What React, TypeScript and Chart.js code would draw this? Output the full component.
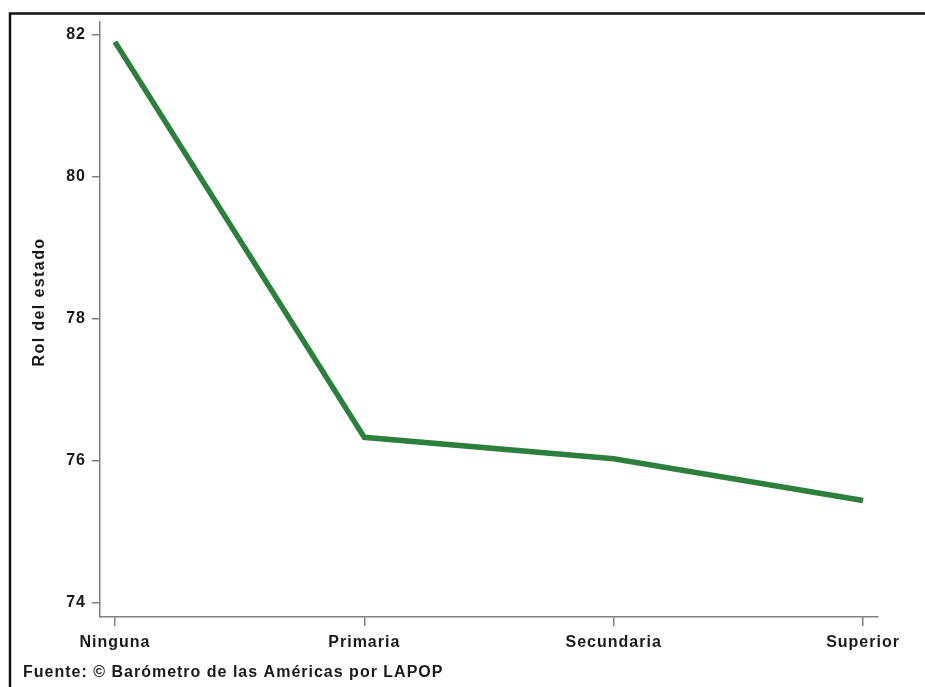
import React, { useEffect, useRef } from "react";
import { Chart, registerables } from "chart.js";

Chart.register(...registerables);

const categories = ["Ninguna", "Primaria", "Secundaria", "Superior"];
const rolDelEstado = [81.9, 76.33, 76.03, 75.44];
const yTicks = [74, 76, 78, 80, 82];
const yTitle = "Rol del estado";
const sourceNote = "Fuente: © Barómetro de las Américas por LAPOP";

const FONT = "'Liberation Sans', Arial, Helvetica, sans-serif";
const TEXT = "#1a1a1a";
const AXIS = "#808080";
const SPACING = "1px";

const spacingPlugin = {
  id: "spacing",
  beforeLayout(chart: any) {
    (chart.ctx as any).letterSpacing = SPACING;
  },
  beforeDraw(chart: any) {
    const ctx = chart.ctx;
    (ctx as any).letterSpacing = SPACING;
    ctx.save();
    ctx.fillStyle = "#ffffff";
    ctx.fillRect(0, 0, chart.width, chart.height);
    ctx.restore();
  },
  afterDraw(chart: any) {
    const ctx = chart.ctx;
    ctx.save();
    // frame
    ctx.strokeStyle = "#111111";
    ctx.lineWidth = 2.5;
    ctx.beginPath();
    ctx.moveTo(10, chart.height + 5);
    ctx.lineTo(10, 13.5);
    ctx.lineTo(chart.width + 5, 13.5);
    ctx.stroke();
    // y title
    (ctx as any).letterSpacing = "1.4px";
    ctx.fillStyle = TEXT;
    ctx.font = `bold 16px ${FONT}`;
    ctx.textAlign = "center";
    ctx.textBaseline = "middle";
    ctx.translate(40, 302);
    ctx.rotate(-Math.PI / 2);
    ctx.fillText(yTitle, 0, 0);
    ctx.restore();
    // source note
    ctx.save();
    (ctx as any).letterSpacing = SPACING;
    ctx.fillStyle = TEXT;
    ctx.font = `bold 16px ${FONT}`;
    ctx.textAlign = "left";
    ctx.textBaseline = "alphabetic";
    ctx.fillText(sourceNote, 23, 677);
    ctx.restore();
  },
};

export default function App() {
  const ref = useRef<HTMLCanvasElement | null>(null);

  useEffect(() => {
    if (!ref.current) return;
    const chart = new Chart(ref.current, {
      type: "line",
      data: {
        datasets: [
          {
            label: yTitle,
            data: rolDelEstado.map((v, i) => ({ x: i, y: v })),
            borderColor: "#2c7f3d",
            backgroundColor: "#2c7f3d",
            borderWidth: 5.5,
            pointRadius: 0,
            tension: 0,
            fill: false,
          },
        ],
      },
      options: {
        responsive: false,
        animation: false,
        layout: { padding: { left: 20, top: 22, right: 47, bottom: 0 } },
        plugins: {
          legend: { display: false },
          tooltip: { enabled: false },
          title: { display: false },
        },
        scales: {
          x: {
            type: "linear",
            min: -0.06,
            max: 3.06,
            afterBuildTicks: (s: any) => {
              s.ticks = categories.map((_, i) => ({ value: i }));
            },
            afterFit: (s: any) => {
              s.height = 70;
            },
            border: { display: true, color: AXIS, width: 1.5 },
            grid: {
              display: true,
              drawOnChartArea: false,
              drawTicks: true,
              tickLength: 9,
              color: AXIS,
              lineWidth: 1.5,
            },
            ticks: {
              autoSkip: false,
              maxRotation: 0,
              padding: 7,
              color: TEXT,
              font: { family: FONT, size: 16, weight: "bold" },
              callback: (v: any) => categories[Math.round(Number(v))] ?? "",
            },
          },
          y: {
            type: "linear",
            min: 73.8,
            max: 82.18,
            afterBuildTicks: (s: any) => {
              s.ticks = yTicks.map((v) => ({ value: v }));
            },
            afterFit: (s: any) => {
              s.width = 80;
            },
            border: { display: true, color: AXIS, width: 1.5 },
            grid: {
              display: true,
              drawOnChartArea: false,
              drawTicks: true,
              tickLength: 8,
              color: AXIS,
              lineWidth: 1.5,
            },
            ticks: {
              padding: 6,
              color: TEXT,
              font: { family: FONT, size: 16, weight: "bold" },
              callback: (v: any) => String(v),
            },
            title: { display: false },
          },
        },
      },
      plugins: [spacingPlugin],
    } as any);
    return () => chart.destroy();
  }, []);

  return (
    <div style={{ position: "fixed", left: 0, top: 0, width: 925, height: 687 }}>
      <canvas ref={ref} width={925} height={687} style={{ display: "block" }} />
    </div>
  );
}
